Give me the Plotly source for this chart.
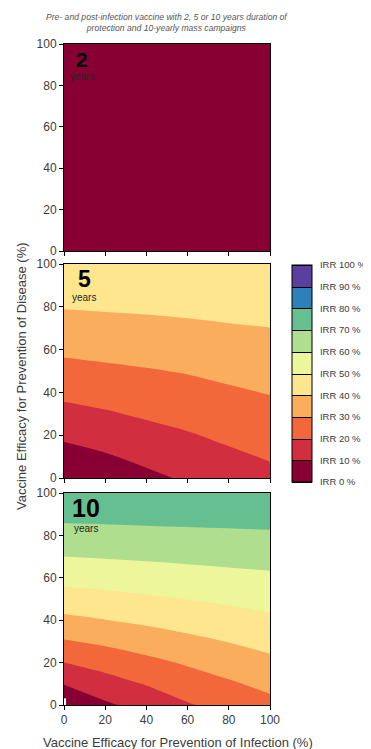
import plotly.graph_objects as go

# ---------------- data ----------------
x_vals = [0, 20, 40, 60, 80, 100]          # efficacy for prevention of infection (%)
y_vals = [0, 10, 20, 30, 40, 50, 60, 70, 80, 90, 100]   # efficacy for prevention of disease (%)

# IRR (%); rows = y_vals, cols = x_vals
irr_2y = [
    [0.0, 0.5, 1.0, 1.5, 2.0, 2.4],
    [0.3, 0.8, 1.3, 1.8, 2.2, 2.7],
    [0.6, 1.1, 1.6, 2.0, 2.5, 2.9],
    [0.9, 1.4, 1.8, 2.3, 2.7, 3.1],
    [1.2, 1.7, 2.1, 2.5, 2.9, 3.3],
    [1.5, 1.9, 2.3, 2.7, 3.1, 3.5],
    [1.8, 2.2, 2.6, 3.0, 3.3, 3.7],
    [2.1, 2.5, 2.8, 3.2, 3.5, 3.9],
    [2.4, 2.7, 3.1, 3.4, 3.8, 4.1],
    [2.7, 3.0, 3.3, 3.6, 4.0, 4.3],
    [3.0, 3.3, 3.6, 3.9, 4.2, 4.5],
]
irr_5y = [
    [0.0, 3.5, 7.8, 11.3, 14.7, 17.5],
    [6.0, 9.1, 12.4, 15.3, 18.3, 20.8],
    [11.8, 14.1, 16.9, 19.3, 21.8, 24.0],
    [17.1, 19.1, 21.3, 23.1, 25.3, 27.2],
    [22.2, 23.7, 25.3, 26.9, 28.8, 30.4],
    [27.1, 28.3, 29.4, 30.6, 32.2, 33.6],
    [31.7, 32.6, 33.5, 34.5, 35.7, 36.7],
    [36.2, 36.8, 37.5, 38.3, 39.2, 39.9],
    [40.5, 41.0, 41.4, 42.0, 42.6, 43.1],
    [44.6, 45.0, 45.2, 45.7, 46.1, 46.4],
    [48.7, 49.0, 49.0, 49.3, 49.5, 49.6],
]
irr_10y = [
    [0.0, 8.5, 13.5, 19.2, 23.2, 27.3],
    [10.5, 16.0, 20.6, 25.1, 28.8, 32.5],
    [20.0, 23.8, 27.5, 31.1, 34.5, 37.8],
    [29.2, 31.8, 34.7, 37.6, 40.3, 43.0],
    [37.7, 39.8, 41.9, 44.0, 46.1, 48.2],
    [45.7, 47.0, 48.6, 50.2, 51.7, 53.3],
    [53.1, 54.0, 55.1, 56.2, 57.3, 58.3],
    [60.0, 60.7, 61.4, 62.1, 62.8, 63.4],
    [66.3, 66.8, 67.3, 67.8, 68.2, 68.6],
    [72.6, 72.9, 73.2, 73.4, 73.6, 73.8],
    [79.0, 79.0, 79.0, 79.0, 79.0, 79.0],
]
panel_labels = ["2", "5", "10"]
legend_levels = [0, 10, 20, 30, 40, 50, 60, 70, 80, 90, 100]
legend_text = ["IRR %d %%" % v for v in legend_levels]
x_ticks = [0, 20, 40, 60, 80, 100]

band_colors = ["#880033", "#d12e40", "#f2683b", "#fbad5e", "#fde68e",
               "#eef69b", "#aede8e", "#66bf91", "#2f7fb9", "#5a3f9e"]

# stepped colourscale
cscale = []
n = len(band_colors)
for i, c in enumerate(band_colors):
    cscale.append([i / n, c])
    cscale.append([(i + 1) / n, c])

FONT = "Arial, Liberation Sans, sans-serif"
TXT = "#3c3c3c"

OFF = 8                      # page body margin in the browser
W, H = 371 - OFF, 749 - OFF

def fx(px):                  # reference page x -> figure x
    return px - OFF

def fy(py):
    return py - OFF

ML = fx(64)
MR = W - fx(270)
MT = fy(44)
MB = H - fy(705)
plot_w = W - ML - MR
plot_h = H - MT - MB
# panel pixel extents in reference page coords (top, bottom)
panels_px = [(44, 251), (264, 478), (493, 705)]

def px2paper_x(px):
    return (fx(px) - ML) / plot_w

def px2paper_y(py):
    return (H - MB - fy(py)) / plot_h

fig = go.Figure()
datasets = [irr_2y, irr_5y, irr_10y]
for k, z in enumerate(datasets):
    fig.add_trace(go.Contour(
        x=x_vals, y=y_vals, z=z,
        xaxis="x" if k == 0 else "x%d" % (k + 1),
        yaxis="y" if k == 0 else "y%d" % (k + 1),
        colorscale=cscale, zmin=0, zmax=100, zauto=False,
        autocontour=False,
        contours=dict(start=0, end=100, size=10, coloring="fill", showlines=False),
        line=dict(width=0),
        showscale=False, hoverinfo="skip",
    ))

# legend (colour bar) trace, on hidden axes
fig.add_trace(go.Contour(
    x=[0, 1], y=[0, 1], z=[legend_levels[:2], legend_levels[-2:]],
    xaxis="x4", yaxis="y4",
    colorscale=cscale, zmin=0, zmax=100, zauto=False, autocontour=False,
    contours=dict(start=0, end=100, size=10, coloring="fill", showlines=True),
    line=dict(width=1, color="black"),
    showscale=True, hoverinfo="skip",
    colorbar=dict(
        x=px2paper_x(292), xanchor="left",
        y=px2paper_y(482), yanchor="bottom",
        len=(482 - 265) / plot_h, lenmode="fraction",
        thickness=20, outlinecolor="black", outlinewidth=1,
        tickvals=legend_levels, ticktext=legend_text,
        ticks="outside", ticklen=6, tickcolor="rgba(0,0,0,0)",
        tickfont=dict(family=FONT, size=9.5, color=TXT),
        xpad=0, ypad=0,
    ),
))

axis_common = dict(range=[0, 100], tickvals=x_ticks, ticks="outside", ticklen=4,
                   tickcolor="black", linecolor="black", linewidth=1, mirror=True,
                   showgrid=False, zeroline=False,
                   tickfont=dict(family=FONT, size=12, color=TXT))
layout = dict(
    width=W, height=H,
    margin=dict(l=ML, r=MR, t=MT, b=MB, autoexpand=False),
    paper_bgcolor="white", plot_bgcolor="white", showlegend=False,
    font=dict(family=FONT, color=TXT),
)
for k, (top, bot) in enumerate(panels_px):
    xn = "xaxis" if k == 0 else "xaxis%d" % (k + 1)
    yn = "yaxis" if k == 0 else "yaxis%d" % (k + 1)
    ya = "y" if k == 0 else "y%d" % (k + 1)
    xa = "x" if k == 0 else "x%d" % (k + 1)
    layout[xn] = dict(axis_common, anchor=ya, domain=[0, 1], showticklabels=(k == 2))
    layout[yn] = dict(axis_common, anchor=xa, domain=[px2paper_y(bot), px2paper_y(top)])
layout["xaxis4"] = dict(domain=[0, 0.01], range=[50, 60], visible=False, anchor="y4")
layout["yaxis4"] = dict(domain=[0, 0.01], range=[50, 60], visible=False, anchor="x4")
fig.update_layout(**layout)

# panel labels
num_sizes = [21, 23, 25]
num_pos = [(82, 59, 76), (84, 279, 297), (86, 508, 528)]
for k, lab in enumerate(panel_labels):
    xa = "x" if k == 0 else "x%d" % (k + 1)
    ya = "y" if k == 0 else "y%d" % (k + 1)
    top, bot = panels_px[k]
    px, py_num, py_yr = num_pos[k]
    fxd = (px - 64) / (270 - 64)
    fig.add_annotation(text="<b>%s</b>" % lab, xref=xa + " domain", yref=ya + " domain",
                       x=fxd, y=(bot - py_num) / (bot - top), showarrow=False,
                       font=dict(family=FONT, size=num_sizes[k], color="black"),
                       xanchor="center", yanchor="middle")
    fig.add_annotation(text="years", xref=xa + " domain", yref=ya + " domain",
                       x=fxd, y=(bot - py_yr) / (bot - top), showarrow=False,
                       font=dict(family=FONT, size=10, color="#262626"),
                       xanchor="center", yanchor="middle")

# title
fig.add_annotation(text="<i>Pre- and post-infection vaccine with 2, 5 or 10 years duration of<br>protection and 10-yearly mass campaigns</i>",
                   xref="paper", yref="paper", x=px2paper_x(166.5),
                   y=px2paper_y(23), showarrow=False, align="center",
                   font=dict(family=FONT, size=8.6, color="#555555"),
                   xanchor="center", yanchor="middle")
# axis titles
fig.add_annotation(text="Vaccine Efficacy for Prevention of Infection (%)",
                   xref="paper", yref="paper", x=px2paper_x(178),
                   y=px2paper_y(742), showarrow=False,
                   font=dict(family=FONT, size=13, color=TXT),
                   xanchor="center", yanchor="middle")
fig.add_annotation(text="Vaccine Efficacy for Prevention of Disease (%)",
                   xref="paper", yref="paper", x=px2paper_x(21),
                   y=px2paper_y(376), showarrow=False, textangle=-90,
                   font=dict(family=FONT, size=13, color=TXT),
                   xanchor="center", yanchor="middle")

fig.write_html("out.html")
